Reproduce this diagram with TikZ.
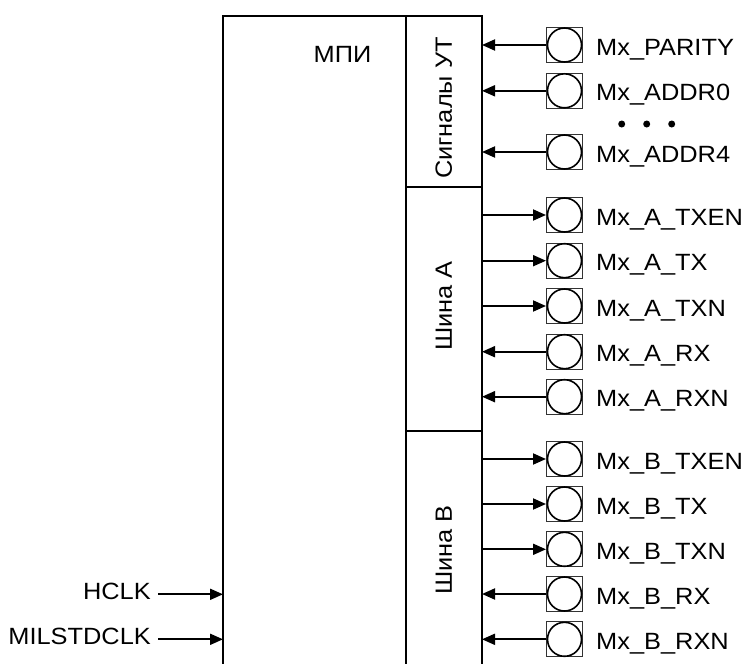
\documentclass[tikz,border=0pt]{standalone}
\usepackage{fontspec}
\setmainfont{Liberation Sans}[FakeStretch=1.08]
\usetikzlibrary{arrows.meta}
\begin{document}
\begin{tikzpicture}[x=1pt,y=-1pt,
  box/.style={line width=2pt},
  pinsq/.style={draw=black!80, line width=1pt, minimum width=36pt, minimum height=35pt, inner sep=0pt},
  pincirc/.style={circle, draw=black, line width=1.6pt, minimum size=34pt, inner sep=0pt},
  txt/.style={font=\fontsize{23.5}{26}\selectfont, inner sep=0pt},
  pinlbl/.style={txt, anchor=base west},
  sig/.style={line width=1.9pt},
  tip/.style={-{Triangle[length=13pt,width=11pt]}},
  dot/.style={circle, fill=black, minimum size=7pt, inner sep=0pt}]
\useasboundingbox (0,0) rectangle (742,664);
% main block
\draw[box] (223,664) -- (223,16) -- (482,16) -- (482,664);
\draw[box] (405.7,16) -- (405.7,664);
\draw[box] (405.7,186.7) -- (482,186.7);
\draw[box] (405.7,430.5) -- (482,430.5);
\node[txt] (mpi) at (342.5,54) {МПИ};
\node[txt, rotate=90] (ut) at (443.8,108) {Сигналы УТ};
\node[txt, rotate=90] (sha) at (443.8,306) {Шина А};
\node[txt, rotate=90] (shb) at (443.8,550) {Шина В};
% input pins
\foreach \n/\yy/\t in {p1/45/Mx\_PARITY, p2/90.8/Mx\_ADDR0, p3/152/Mx\_ADDR4,
  a4/351.7/Mx\_A\_RX, a5/396.7/Mx\_A\_RXN, b4/594/Mx\_B\_RX, b5/639.3/Mx\_B\_RXN}{
  \node[pinsq] (\n) at (564.5,\yy) {};
  \node[pincirc] (\n o) at (\n) {};
  \coordinate (\n c) at (482,\yy);
  \draw[sig,tip] (\n.west) -- (\n c);
  \node[pinlbl] (\n l) at (596,\yy+10) {\t};
}
% output pins
\foreach \n/\yy/\t in {a1/215/Mx\_A\_TXEN, a2/260.7/Mx\_A\_TX, a3/306/Mx\_A\_TXN,
  b1/459/Mx\_B\_TXEN, b2/504/Mx\_B\_TX, b3/549.3/Mx\_B\_TXN}{
  \node[pinsq] (\n) at (564.5,\yy) {};
  \node[pincirc] (\n o) at (\n) {};
  \coordinate (\n c) at (482,\yy);
  \draw[sig,tip] (\n c) -- (\n.west);
  \node[pinlbl] (\n l) at (596,\yy+10) {\t};
}
% dots
\node[dot] (d1) at (621.7,124) {};
\node[dot] (d2) at (646.7,124) {};
\node[dot] (d3) at (671.7,124) {};
% clocks
\node[txt, anchor=base east] (hclk) at (151,599.3) {HCLK};
\node[txt, anchor=base east] (mclk) at (151,644.3) {MILSTDCLK};
\coordinate (hs) at (158,594.3);
\coordinate (he) at (223,594.3);
\coordinate (ms) at (158,639.3);
\coordinate (me) at (223,639.3);
\draw[sig,tip] (hs) -- (he);
\draw[sig,tip] (ms) -- (me);
\end{tikzpicture}
\end{document}
